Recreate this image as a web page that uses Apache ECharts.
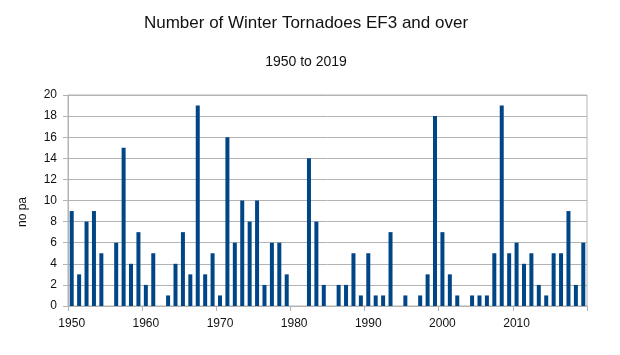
<!DOCTYPE html>
<html><head><meta charset="utf-8">
<script src="https://cdn.jsdelivr.net/npm/echarts@6/dist/echarts.min.js"></script>
<style>html,body{margin:0;padding:0;background:#fff}#c{width:620px;height:355px}</style>
</head><body><div id="c"></div>
<script>
var years = [];
for (var y = 1950; y <= 2019; y++) years.push(String(y));
var counts = [
  9,3,8,9,5,0,6,15,4,7,
  2,5,0,1,4,7,3,19,3,5,
  1,16,6,10,8,10,2,6,6,3,
  0,0,14,8,2,0,2,2,5,1,
  5,1,1,7,0,1,0,1,3,18,
  7,3,1,0,1,1,1,5,19,5,
  6,4,5,2,1,5,5,9,2,6
];
var titleText = 'Number of Winter Tornadoes EF3 and over';
var subtitleText = '1950 to 2019';
var yTitle = 'no pa';

var chart = echarts.init(document.getElementById('c'), null, {renderer: 'canvas'});
chart.setOption({
  animation: false,
  backgroundColor: '#ffffff',
  title: [
    {text: titleText, left: 301, top: 10, textAlign: 'center',
     textStyle: {fontFamily: 'Liberation Sans', fontSize: 17, fontWeight: 'normal', color: '#111'}},
    {text: subtitleText, left: 301, top: 50, textAlign: 'center',
     textStyle: {fontFamily: 'Liberation Sans', fontSize: 14, fontWeight: 'normal', color: '#111'}}
  ],
  graphic: [{
    type: 'text', x: 23, y: 212, rotation: Math.PI / 2,
    style: {text: yTitle, font: '12px "Liberation Sans"', fill: '#111',
            textAlign: 'center', textVerticalAlign: 'middle'}
  }],
  grid: {left: 68, right: 33, top: 95, bottom: 49, show: true, borderColor: '#b3b3b3', borderWidth: 1},
  xAxis: {
    type: 'category', data: years, boundaryGap: true,
    axisLine: {lineStyle: {color: '#b3b3b3'}},
    axisTick: {show: true, interval: 9, length: 5, lineStyle: {color: '#b3b3b3'}},
    axisLabel: {interval: 9, color: '#111', fontFamily: 'Liberation Sans', fontSize: 12, margin: 12}
  },
  yAxis: {
    type: 'value', min: 0, max: 20, interval: 2,
    axisLine: {show: true, lineStyle: {color: '#b3b3b3'}},
    axisTick: {show: true, length: 5, lineStyle: {color: '#b3b3b3'}},
    splitLine: {lineStyle: {color: '#b3b3b3'}},
    axisLabel: {color: '#111', fontFamily: 'Liberation Sans', fontSize: 12, margin: 11}
  },
  series: [{
    type: 'bar', data: counts, barWidth: 4,
    itemStyle: {color: '#004586'}
  }]
});
</script></body></html>
